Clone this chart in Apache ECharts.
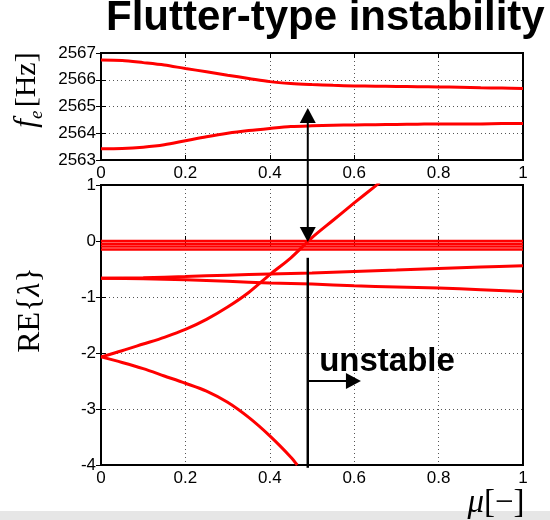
<!DOCTYPE html>
<html><head><meta charset="utf-8">
<script src="https://cdn.jsdelivr.net/npm/echarts@6/dist/echarts.min.js"></script>
<style>html,body{margin:0;padding:0;background:#fff}#c{width:550px;height:520px}</style>
</head><body><div id="c"></div>
<script>
// ---- data ----
const muFine   = [0,0.05,0.1,0.15,0.2,0.25,0.3,0.35,0.4,0.45,0.5,0.55,0.6,0.65,0.7,0.75,0.8,0.85,0.9,0.95,1];
const feUpper  = [2566.74,2566.72,2566.64,2566.55,2566.42,2566.30,2566.17,2566.05,2565.93,2565.86,2565.82,2565.79,2565.77,2565.76,2565.75,2565.74,2565.73,2565.72,2565.70,2565.69,2565.67];
const feLower  = [2563.42,2563.43,2563.48,2563.57,2563.72,2563.87,2564.00,2564.10,2564.18,2564.25,2564.28,2564.30,2564.31,2564.32,2564.33,2564.34,2564.35,2564.35,2564.35,2564.36,2564.36];
const muCoarse = [0,0.1,0.2,0.3,0.4,0.5,0.6,0.7,0.8,0.9,1];
const reUpperBranch = [-0.665,-0.655,-0.635,-0.61,-0.59,-0.57,-0.545,-0.52,-0.49,-0.465,-0.44];
const reLowerBranch = [-0.665,-0.675,-0.69,-0.72,-0.75,-0.77,-0.80,-0.82,-0.84,-0.87,-0.90];
const muRise = [0,0.05,0.1,0.15,0.2,0.25,0.3,0.35,0.4,0.45,0.5,0.55,0.6,0.65,0.66];
const reRise = [-2.07,-1.96,-1.84,-1.72,-1.58,-1.40,-1.18,-0.92,-0.60,-0.30,0.06,0.37,0.68,0.98,1.04];
const muFall = [0,0.05,0.1,0.15,0.2,0.25,0.3,0.35,0.4,0.45,0.465];
const reFall = [-2.07,-2.17,-2.28,-2.41,-2.54,-2.68,-2.88,-3.15,-3.48,-3.86,-4.0];
const bandMu = [0,1];
const bandLevels = [0.0,-0.05,-0.10,-0.15];
const muTicks = [0,0.2,0.4,0.6,0.8,1];
const feTicks = [2563,2564,2565,2566,2567];
const reTicks = [-4,-3,-2,-1,0,1];
// annotation anchors (data coords)
const arrowMu = 0.49;
const arrowTopFe = 2564.94;
const arrowBottomRe = -0.02;
const stableLineRe = [-0.3,-4.05];
const unstableArrowRe = -2.5, unstableArrowTipMu = 0.616;
const unstableLabel = {mu:0.517, re:-2.16, text:'unstable'};

const zip = (a,b)=>a.map((v,i)=>[v,b[i]]);
const RED = '#ff0000';
const sans = '"Liberation Sans", Arial, sans-serif';
const serif = '"Liberation Serif", "Times New Roman", serif';
const fmt = v => String(+v.toFixed(2));

function xAx(g, pos, main){
  return {type:'value', gridIndex:g, position:pos, min:muTicks[0], max:muTicks[muTicks.length-1], interval:0.2,
    axisLine:{show:false},
    axisTick:{show:true, inside:true, length:5, lineStyle:{color:'#000', width:1}},
    axisLabel:{show:main, color:'#000', fontSize:17, fontFamily:sans, margin:5, formatter:fmt},
    splitLine:{show:main, lineStyle:{color:'#555', type:[1,3], width:1}}};
}
function yAx(g, pos, main, ticks){
  return {type:'value', gridIndex:g, position:pos, min:ticks[0], max:ticks[ticks.length-1], interval:1,
    axisLine:{show:false},
    axisTick:{show:true, inside:true, length:5, lineStyle:{color:'#000', width:1}},
    axisLabel:{show:main, color:'#000', fontSize:17, fontFamily:sans, margin:5, formatter:fmt},
    splitLine:{show:main, lineStyle:{color:'#555', type:[1,3], width:1}}};
}
function line(xi, yi, data, w){
  return {type:'line', xAxisIndex:xi, yAxisIndex:yi, data, symbol:'none', smooth:0.3,
    lineStyle:{color:RED, width:w||3}, silent:true, animation:false};
}

const series = [
  line(0,0,zip(muFine,feUpper)),
  line(0,0,zip(muFine,feLower)),
  ...bandLevels.map(v=>line(2,2,bandMu.map(m=>[m,v]),2.5)),
  line(2,2,zip(muCoarse,reUpperBranch)),
  line(2,2,zip(muCoarse,reLowerBranch)),
  line(2,2,zip(muRise,reRise)),
  line(2,2,zip(muFall,reFall)),
];

const chart = echarts.init(document.getElementById('c'), null, {renderer:'canvas'});
chart.setOption({
  animation:false,
  backgroundColor:'#fff',
  grid:[
    {left:101, right:27, top:53, height:107, show:true, borderColor:'#000', borderWidth:2, backgroundColor:'transparent', z:3},
    {left:101, right:27, top:185, height:280, show:true, borderColor:'#000', borderWidth:2, backgroundColor:'transparent', z:3}
  ],
  xAxis:[xAx(0,'bottom',true), xAx(0,'top',false), xAx(1,'bottom',true), xAx(1,'top',false)],
  yAxis:[yAx(0,'left',true,feTicks), yAx(0,'right',false,feTicks), yAx(1,'left',true,reTicks), yAx(1,'right',false,reTicks)],
  series
});

const topIdx = 0, botIdx = 2;
const P = (si, x, y) => chart.convertToPixel({seriesIndex:si}, [x,y]);
const a1 = P(topIdx, arrowMu, arrowTopFe);
const a2 = P(botIdx, arrowMu, arrowBottomRe);
const s1 = P(botIdx, arrowMu, stableLineRe[0]);
const s2 = P(botIdx, arrowMu, stableLineRe[1]);
const h1 = P(botIdx, arrowMu, unstableArrowRe);
const h2 = P(botIdx, unstableArrowTipMu, unstableArrowRe);
const lab = P(botIdx, unstableLabel.mu, unstableLabel.re);
const ah = 15, aw = 8;
const blk = {stroke:'#000', lineWidth:2};

chart.setOption({graphic:[
  {type:'rect', shape:{x:0, y:511, width:550, height:9}, style:{fill:'#e6e6e6'}, z:0},
  {type:'text', x:106, y:18, z:5, style:{text:'Flutter-type instability', font:'bold 42px '+sans, fill:'#000', verticalAlign:'middle'}},
  {type:'text', x:27, y:90, z:5, rotation:Math.PI/2, style:{
    text:'{a|f}{b|e} {c|[Hz]}', align:'center', verticalAlign:'middle',
    rich:{a:{fontFamily:serif, fontStyle:'italic', fontSize:31, lineHeight:38, verticalAlign:'middle'},
          b:{fontFamily:serif, fontStyle:'italic', fontSize:19, lineHeight:19, verticalAlign:'bottom'},
          c:{fontFamily:serif, fontSize:30, lineHeight:38, verticalAlign:'middle'}}}},
  {type:'text', x:31, y:310, z:5, rotation:Math.PI/2, style:{
    text:'RE{{a|λ}}', align:'center', verticalAlign:'middle', font:'32px '+serif, fill:'#000',
    rich:{a:{fontFamily:serif, fontStyle:'italic', fontSize:32}}}},
  {type:'text', x:496, y:503, z:5, style:{
    text:'{a|μ}[−]', align:'center', verticalAlign:'middle', font:'33px '+serif, fill:'#000',
    rich:{a:{fontFamily:serif, fontStyle:'italic', fontSize:33}}}},
  // double arrow
  {type:'line', shape:{x1:a1[0], y1:a1[1]+ah-1, x2:a2[0], y2:a2[1]-ah+1}, style:blk, z:10},
  {type:'polygon', shape:{points:[[a1[0],a1[1]],[a1[0]-aw,a1[1]+ah],[a1[0]+aw,a1[1]+ah]]}, style:{fill:'#000'}, z:10},
  {type:'polygon', shape:{points:[[a2[0],a2[1]],[a2[0]-aw,a2[1]-ah],[a2[0]+aw,a2[1]-ah]]}, style:{fill:'#000'}, z:10},
  // stability boundary
  {type:'line', shape:{x1:s1[0], y1:s1[1], x2:s2[0], y2:s2[1]}, style:{stroke:'#000', lineWidth:2.5}, z:10},
  {type:'line', shape:{x1:h1[0], y1:h1[1], x2:h2[0]-ah+1, y2:h2[1]}, style:blk, z:10},
  {type:'polygon', shape:{points:[[h2[0],h2[1]],[h2[0]-ah,h2[1]-aw],[h2[0]-ah,h2[1]+aw]]}, style:{fill:'#000'}, z:10},
  {type:'text', x:lab[0], y:lab[1], style:{text:unstableLabel.text, font:'bold 33px '+sans, fill:'#000', verticalAlign:'middle'}, z:10}
]});
</script></body></html>
